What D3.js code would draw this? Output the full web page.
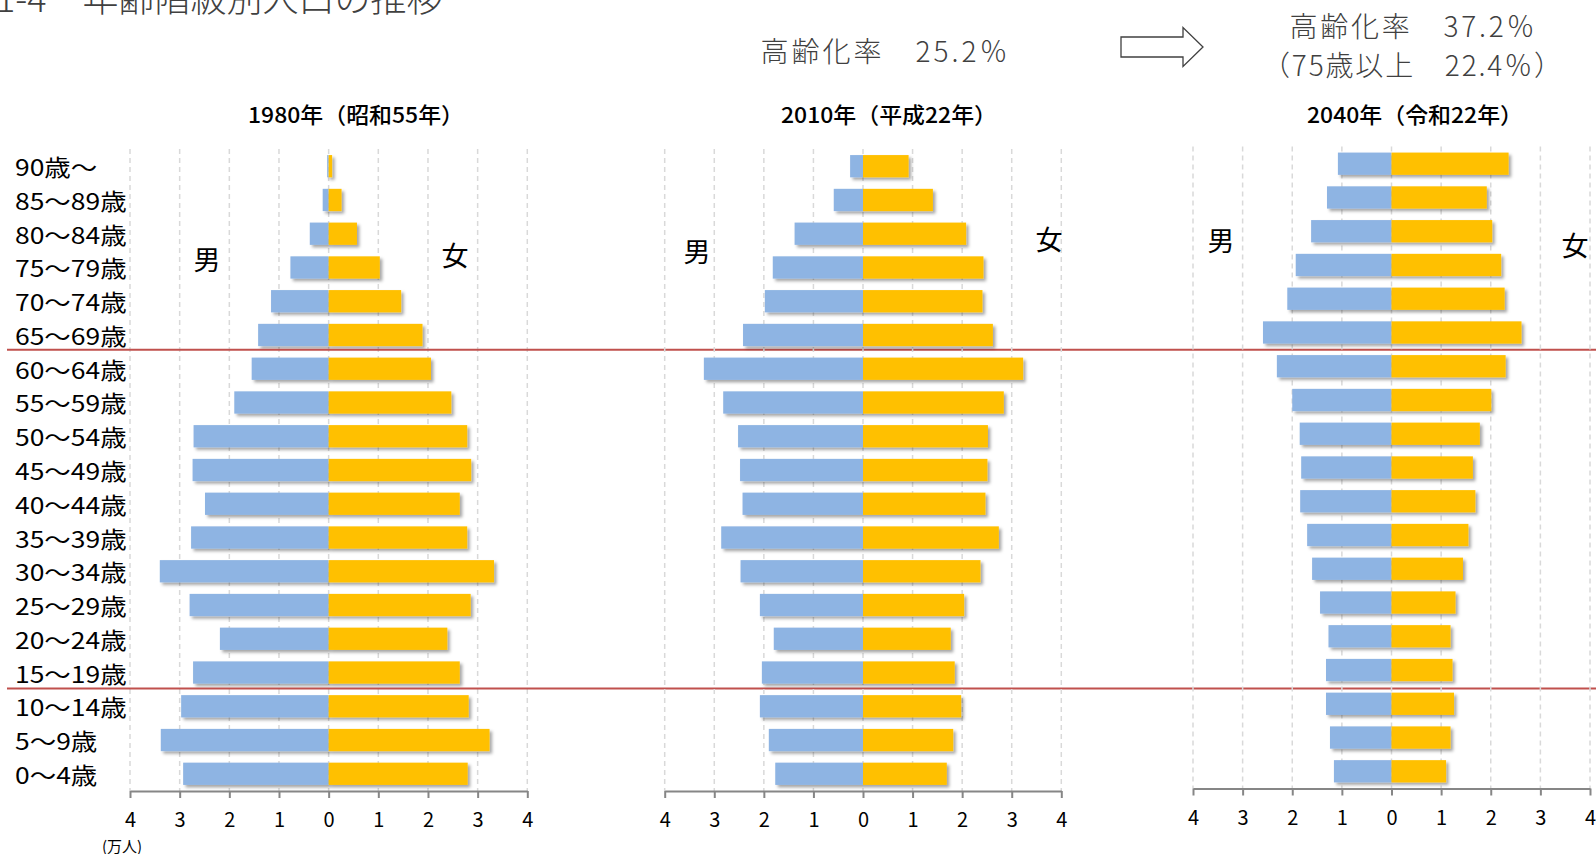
<!DOCTYPE html>
<html>
<head>
<meta charset="utf-8">
<script src="https://cdn.jsdelivr.net/npm/d3@7"></script>
<style>
  html, body { margin: 0; padding: 0; background: #fff; overflow: hidden; }
  svg { display: block; font-family: "Noto Sans CJK JP", "Noto Sans", sans-serif; }
</style>
</head>
<body>
<script>
// age groups, top to bottom
var ageLabels = ["90歳～", "85～89歳", "80～84歳", "75～79歳", "70～74歳", "65～69歳",
  "60～64歳", "55～59歳", "50～54歳", "45～49歳", "40～44歳", "35～39歳", "30～34歳",
  "25～29歳", "20～24歳", "15～19歳", "10～14歳", "5～9歳", "0～4歳"];

// population, 万人
var male1980   = [0.03, 0.12, 0.38, 0.77, 1.16, 1.42, 1.55, 1.90, 2.72, 2.74, 2.49, 2.77, 3.40, 2.80, 2.19, 2.73, 2.97, 3.38, 2.93];
var female1980 = [0.07, 0.26, 0.57, 1.03, 1.46, 1.89, 2.06, 2.47, 2.79, 2.87, 2.64, 2.79, 3.33, 2.86, 2.39, 2.64, 2.82, 3.24, 2.80];
var male2010   = [0.26, 0.59, 1.38, 1.82, 1.98, 2.42, 3.21, 2.82, 2.52, 2.48, 2.43, 2.86, 2.47, 2.08, 1.80, 2.04, 2.08, 1.90, 1.77];
var female2010 = [0.92, 1.41, 2.08, 2.43, 2.41, 2.62, 3.23, 2.84, 2.52, 2.51, 2.47, 2.74, 2.37, 2.04, 1.77, 1.85, 1.98, 1.82, 1.69];
var male2040   = [1.08, 1.30, 1.62, 1.93, 2.10, 2.59, 2.31, 2.00, 1.85, 1.82, 1.84, 1.70, 1.60, 1.44, 1.27, 1.32, 1.32, 1.24, 1.16];
var female2040 = [2.36, 1.92, 2.03, 2.21, 2.28, 2.62, 2.30, 2.01, 1.78, 1.64, 1.69, 1.55, 1.44, 1.29, 1.19, 1.23, 1.26, 1.19, 1.10];

var panelTitles = ["1980年（昭和55年）", "2010年（平成22年）", "2040年（令和22年）"];
var tickValues = [-4, -3, -2, -1, 0, 1, 2, 3, 4];

var W = 1596, H = 854;
var maleColor = "#8EB4E3", femaleColor = "#FFC000";

var svg = d3.select("body").append("svg")
    .attr("width", W)
    .attr("height", H);

var defs = svg.append("defs");
defs.append("filter")
    .attr("id", "shadow")
    .attr("x", "-10%").attr("y", "-20%")
    .attr("width", "130%").attr("height", "160%")
  .append("feDropShadow")
    .attr("dx", 2.5).attr("dy", 2.5)
    .attr("stdDeviation", 1.6)
    .attr("flood-color", "#000")
    .attr("flood-opacity", 0.35);

// panel layout: x extent of axis and vertical extent of bands
var panels = [
  { male: male1980, female: female1980, x0: 130, x1: 527.3, top: 149, bottom: 791, title: panelTitles[0], tx: 356, man: [207, 258], woman: [455, 254] },
  { male: male2010, female: female2010, x0: 664.7, x1: 1061.3, top: 149, bottom: 791, title: panelTitles[1], tx: 889, man: [697, 250], woman: [1049, 238] },
  { male: male2040, female: female2040, x0: 1193, x1: 1590, top: 146.5, bottom: 788.5, title: panelTitles[2], tx: 1415, man: [1221, 239], woman: [1575, 244] }
];

// page title (cut off at the top in the original)
svg.append("text")
    .attr("x", -4).attr("y", 12)
    .attr("font-size", 36)
    .attr("font-weight", 300)
    .attr("fill", "#404040")
    .text("1-4　年齢階級別人口の推移");

panels.forEach(function(p, i) {
  var x = d3.scaleLinear().domain([-4, 4]).range([p.x0, p.x1]);
  var y = d3.scaleBand().domain(ageLabels).range([p.top, p.bottom])
      .paddingInner(0.34).paddingOuter(0.18);

  var g = svg.append("g").attr("class", "panel" + i);

  // dashed gridlines
  g.append("g").selectAll("line")
    .data(tickValues)
    .enter().append("line")
      .attr("x1", function(d) { return x(d); })
      .attr("x2", function(d) { return x(d); })
      .attr("y1", p.top)
      .attr("y2", p.bottom)
      .attr("stroke", "#D9D9D9")
      .attr("stroke-width", 1.5)
      .attr("stroke-dasharray", "5,4");

  var bars = g.append("g").attr("filter", "url(#shadow)");
  bars.selectAll("rect.m")
    .data(p.male)
    .enter().append("rect")
      .attr("class", "m")
      .attr("x", function(d) { return x(-d); })
      .attr("y", function(d, j) { return y(ageLabels[j]); })
      .attr("width", function(d) { return x(0) - x(-d); })
      .attr("height", y.bandwidth())
      .attr("fill", maleColor);
  bars.selectAll("rect.f")
    .data(p.female)
    .enter().append("rect")
      .attr("class", "f")
      .attr("x", x(0))
      .attr("y", function(d, j) { return y(ageLabels[j]); })
      .attr("width", function(d) { return x(d) - x(0); })
      .attr("height", y.bandwidth())
      .attr("fill", femaleColor);

  // bottom axis
  var axis = g.append("g")
      .attr("transform", "translate(0," + p.bottom + ")")
      .call(d3.axisBottom(x).tickValues(tickValues).tickSize(7).tickSizeOuter(0)
        .tickFormat(function(d) { return Math.abs(d); }));
  axis.select(".domain").attr("stroke", "#868686").attr("stroke-width", 2);
  axis.selectAll(".tick line").attr("stroke", "#868686").attr("stroke-width", 2);
  axis.selectAll(".tick text")
      .attr("y", 22)
      .attr("font-size", 20)
      .attr("font-family", "'Noto Sans CJK JP', sans-serif")
      .attr("fill", "#000");

  // panel title
  g.append("text")
      .attr("x", p.tx).attr("y", 113)
      .attr("text-anchor", "middle")
      .attr("dominant-baseline", "central")
      .attr("font-size", 22)
      .attr("font-weight", 500)
      .attr("textLength", 216)
      .attr("lengthAdjust", "spacingAndGlyphs")
      .text(p.title);

  // 男 / 女
  g.append("text")
      .attr("x", p.man[0]).attr("y", p.man[1])
      .attr("text-anchor", "middle").attr("dominant-baseline", "central")
      .attr("font-size", 27)
      .text("男");
  g.append("text")
      .attr("x", p.woman[0]).attr("y", p.woman[1])
      .attr("text-anchor", "middle").attr("dominant-baseline", "central")
      .attr("font-size", 27)
      .text("女");

  if (i === 0) {
    // age labels, widened to the original's letter width
    g.append("g").selectAll("text")
      .data(ageLabels)
      .enter().append("text")
        .attr("x", 15)
        .attr("y", function(d) { return y(d) + y.bandwidth() / 2; })
        .attr("dominant-baseline", "central")
        .attr("font-size", 23)
        .attr("fill", "#000")
        .text(function(d) { return d; })
        .each(function() {
          var len = this.getComputedTextLength();
          d3.select(this)
            .attr("textLength", len * 1.15)
            .attr("lengthAdjust", "spacingAndGlyphs");
        });

    g.append("text")
        .attr("x", 122).attr("y", 845)
        .attr("text-anchor", "middle").attr("dominant-baseline", "central")
        .attr("font-size", 15)
        .text("(万人)");

    // red separators: 65歳以上 / 15歳未満
    var gap = y.step() * y.paddingInner() / 2;
    var sepY = [y(ageLabels[6]) - gap - 2, y(ageLabels[16]) - gap - 1];
    svg.append("g").selectAll("line")
      .data(sepY)
      .enter().append("line")
        .attr("x1", 7).attr("x2", W)
        .attr("y1", function(d) { return d; })
        .attr("y2", function(d) { return d; })
        .attr("stroke", "#C0504D")
        .attr("stroke-width", 2);
  }
});

// annotations at the top
function note(txt, cx, cy, len) {
  svg.append("text")
      .attr("x", cx).attr("y", cy)
      .attr("text-anchor", "middle")
      .attr("dominant-baseline", "central")
      .attr("font-size", 28)
      .attr("font-weight", 300)
      .attr("fill", "#404040")
      .attr("textLength", len)
      .attr("lengthAdjust", "spacing")
      .text(txt);
}
note("高齢化率　25.2％", 884, 50, 247);
note("高齢化率　37.2％", 1412, 25, 245);
note("（75歳以上　22.4％）", 1412, 64, 300);

// hollow arrow
var ax0 = 1121, ax1 = 1183, atip = 1203, acy = 47;
svg.append("path")
    .attr("d", d3.line()([
      [ax0, acy - 10], [ax1, acy - 10], [ax1, acy - 19.5], [atip, acy],
      [ax1, acy + 19.5], [ax1, acy + 10], [ax0, acy + 10]
    ]) + "Z")
    .attr("fill", "#fff")
    .attr("stroke", "#404040")
    .attr("stroke-width", 1.3);
</script>
</body>
</html>
